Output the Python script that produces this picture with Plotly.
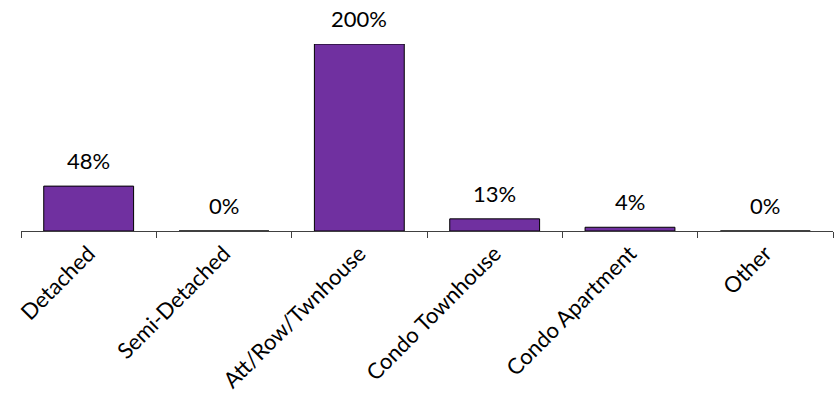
import plotly.graph_objects as go

categories = ["Detached", "Semi-Detached", "Att/Row/Twnhouse", "Condo Townhouse", "Condo Apartment", "Other"]
values = [48, 0, 200, 13, 4, 0]
labels = ["48%", "0%", "200%", "13%", "4%", "0%"]

FONT = "Lato, Open Sans, sans-serif"

fig = go.Figure()
fig.add_trace(go.Bar(
    x=categories, y=values,
    marker=dict(color="#7030A0", line=dict(color="#000000", width=1)),
    hoverinfo="skip",
))
for c, v, t in zip(categories, values, labels):
    fig.add_annotation(x=c, y=v, text=t, showarrow=False, yanchor="bottom", yshift=11,
                       borderpad=0,
                       font=dict(family=FONT, size=22, color="#000000"))

fig.update_layout(
    width=837, height=402,
    margin=dict(l=20.7, r=3.5, t=44.3, b=171.3, pad=0, autoexpand=False),
    paper_bgcolor="white", plot_bgcolor="white",
    bargap=0.336,
    showlegend=False,
    font=dict(family=FONT, size=22, color="#000000"),
)
fig.update_xaxes(
    range=[-0.5, 5.5], showline=True, linecolor="#404040", linewidth=1,
    ticks="outside", tickson="boundaries", ticklen=6, tickcolor="#404040", tickwidth=1,
    tickangle=-45, showgrid=False, zeroline=False, automargin=False,
    tickfont=dict(family=FONT, size=22, color="#000000"),
)
fig.update_yaxes(range=[0, 200], visible=False, showgrid=False, zeroline=False, automargin=False)
fig.update_traces(cliponaxis=False)

# remove the browser's default 8px body margin so the 837x402 figure fills the window
fig.write_html("out.html", config={"displayModeBar": False},
               post_script="document.body.style.margin='0';")
